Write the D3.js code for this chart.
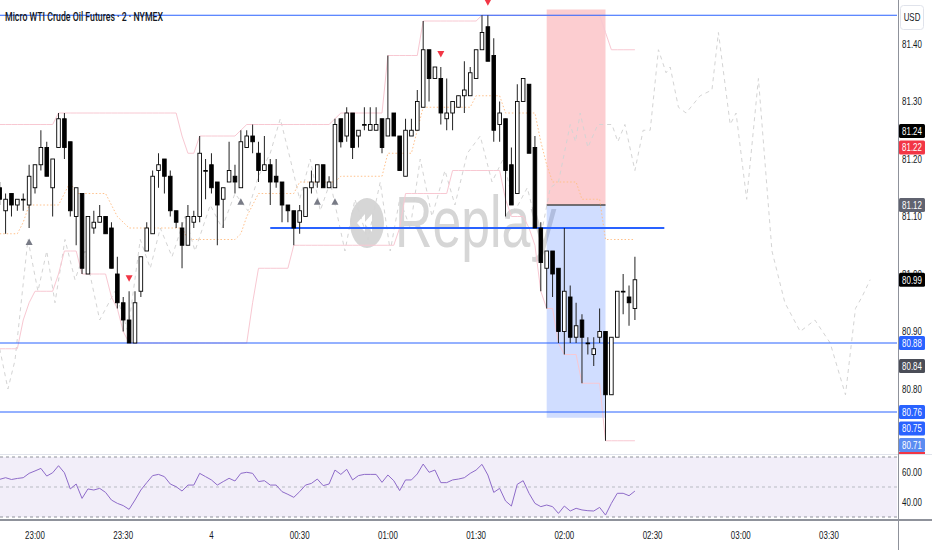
<!DOCTYPE html>
<html>
<head>
<meta charset="utf-8">
<script src="https://cdn.jsdelivr.net/npm/d3@7"></script>
<style>
html, body { margin: 0; padding: 0; background: #fff; }
svg { display: block; font-family: "Liberation Sans", Arial, sans-serif; }
</style>
</head>
<body>
<div id="chart"></div>
<script>
// Chart data (2-minute bars, first bar 22:48)
var symbolTitle = "Micro WTI Crude Oil Futures · 2 · NYMEX";
var firstBarTime = "2024-03-03 22:48";
var barMinutes = 2;

var opens = [
  81.15, 81.11, 81.14, 81.12, 81.13, 81.12, 81.15, 81.19, 81.22, 81.15, 81.22,
  81.27, 81.23, 81.10, 81.14, 81.00, 81.08, 81.09, 81.10, 81.08, 81.00,
  80.95, 80.92, 80.88, 80.97, 81.04, 81.07, 81.18, 81.20, 81.17, 81.11,
  81.08, 81.05, 81.09, 81.10, 81.18, 81.19, 81.16, 81.13, 81.16, 81.17,
  81.15, 81.22, 81.24, 81.21, 81.18, 81.19, 81.17, 81.16, 81.12, 81.11,
  81.09, 81.10, 81.15, 81.16, 81.19, 81.15, 81.15, 81.27, 81.24, 81.28,
  81.24, 81.26, 81.25, 81.25, 81.27, 81.24, 81.28, 81.24, 81.17, 81.24,
  81.25, 81.29, 81.39, 81.34, 81.34, 81.27, 81.28, 81.29, 81.31, 81.31,
  81.34, 81.39, 81.43, 81.38, 81.26, 81.27, 81.19, 81.14, 81.30, 81.33,
  81.22, 81.08, 81.01, 81.04, 81.01, 80.90, 80.96, 80.89, 80.92, 80.88,
  80.86, 80.89, 80.90, 80.79, 80.89, 80.97, 80.96, 80.94
];
var highs = [
  81.16, 81.14, 81.14, 81.13, 81.14, 81.19, 81.19, 81.25, 81.23, 81.20, 81.28,
  81.28, 81.23, 81.15, 81.14, 81.10, 81.11, 81.12, 81.10, 81.09, 81.03,
  80.96, 80.97, 80.97, 81.03, 81.09, 81.18, 81.21, 81.20, 81.18, 81.11,
  81.09, 81.12, 81.11, 81.24, 81.20, 81.21, 81.16, 81.15, 81.23, 81.19,
  81.25, 81.25, 81.26, 81.23, 81.24, 81.20, 81.20, 81.16, 81.12, 81.11,
  81.12, 81.15, 81.18, 81.19, 81.19, 81.17, 81.27, 81.27, 81.29, 81.28,
  81.25, 81.29, 81.29, 81.29, 81.27, 81.38, 81.28, 81.24, 81.27, 81.27,
  81.32, 81.44, 81.39, 81.36, 81.36, 81.34, 81.30, 81.31, 81.37, 81.36,
  81.39, 81.45, 81.45, 81.41, 81.30, 81.27, 81.22, 81.33, 81.34, 81.33,
  81.24, 81.09, 81.04, 81.04, 81.01, 81.08, 80.98, 80.95, 80.93, 80.89,
  80.89, 80.94, 80.90, 80.89, 80.97, 81.00, 80.98, 81.03
];
var lows = [
  81.12, 81.07, 81.10, 81.11, 81.11, 81.08, 81.14, 81.18, 81.17, 81.10, 81.22,
  81.20, 81.10, 81.05, 81.00, 81.00, 81.07, 81.09, 81.07, 81.01, 80.94,
  80.90, 80.88, 80.88, 80.96, 81.04, 81.07, 81.15, 81.14, 81.10, 81.08,
  81.01, 81.05, 81.08, 81.09, 81.13, 81.14, 81.05, 81.08, 81.16, 81.14,
  81.15, 81.22, 81.21, 81.16, 81.18, 81.12, 81.15, 81.09, 81.09, 81.05,
  81.07, 81.10, 81.14, 81.15, 81.15, 81.15, 81.15, 81.22, 81.23, 81.20,
  81.22, 81.25, 81.25, 81.25, 81.21, 81.24, 81.24, 81.18, 81.17, 81.24,
  81.25, 81.29, 81.30, 81.34, 81.26, 81.25, 81.25, 81.29, 81.28, 81.31,
  81.34, 81.39, 81.37, 81.23, 81.23, 81.10, 81.12, 81.14, 81.30, 81.21,
  81.08, 80.97, 80.94, 80.96, 80.88, 80.86, 80.88, 80.88, 80.81, 80.86,
  80.84, 80.88, 80.71, 80.79, 80.89, 80.93, 80.91, 80.92
];
var closes = [
  81.13, 81.13, 81.12, 81.13, 81.13, 81.17, 81.19, 81.22, 81.17, 81.20, 81.27,
  81.22, 81.11, 81.15, 81.01, 81.10, 81.09, 81.10, 81.07, 81.01, 80.95,
  80.92, 80.88, 80.95, 81.03, 81.08, 81.17, 81.19, 81.17, 81.11, 81.09,
  81.05, 81.10, 81.10, 81.21, 81.18, 81.15, 81.12, 81.15, 81.18, 81.16,
  81.23, 81.24, 81.23, 81.18, 81.19, 81.16, 81.16, 81.12, 81.11, 81.08,
  81.11, 81.15, 81.16, 81.19, 81.15, 81.16, 81.26, 81.23, 81.28, 81.22,
  81.25, 81.26, 81.26, 81.26, 81.22, 81.27, 81.24, 81.18, 81.25, 81.25,
  81.30, 81.39, 81.34, 81.36, 81.28, 81.28, 81.30, 81.31, 81.32, 81.35,
  81.39, 81.42, 81.37, 81.25, 81.28, 81.18, 81.12, 81.30, 81.34, 81.21,
  81.08, 81.02, 81.04, 81.00, 80.90, 80.97, 80.89, 80.91, 80.89, 80.88,
  80.87, 80.90, 80.79, 80.89, 80.97, 80.97, 80.95, 80.99
];

// Channel indicator (upper / lower / middle), one value per bar
var bandUpper = [
  81.26, 81.26, 81.26, 81.26, 81.26, 81.26, 81.26, 81.26, 81.26, 81.26,
  81.28, 81.28, 81.28, 81.28, 81.28, 81.28, 81.28, 81.28, 81.28, 81.28,
  81.28, 81.28, 81.28, 81.28, 81.28, 81.28, 81.28, 81.28, 81.28, 81.28,
  81.28, 81.24, 81.21, 81.21, 81.24, 81.24, 81.24, 81.24, 81.24, 81.24,
  81.24, 81.25, 81.26, 81.26, 81.26, 81.26, 81.26, 81.26, 81.26, 81.26,
  81.26, 81.26, 81.26, 81.26, 81.26, 81.26, 81.26, 81.27, 81.28, 81.28,
  81.28, 81.28, 81.28, 81.28, 81.28, 81.28, 81.38, 81.38, 81.38, 81.38,
  81.38, 81.38, 81.44, 81.44, 81.44, 81.44, 81.44, 81.44, 81.44, 81.44,
  81.44, 81.44, 81.45, 81.45, 81.45, 81.45, 81.45, 81.45, 81.45, 81.45,
  81.45, 81.45, 81.45, 81.45, 81.45, 81.45, 81.45, 81.45, 81.45, 81.45,
  81.45, 81.45, 81.45, 81.42, 81.39, 81.39, 81.39, 81.39, 81.39
];
var bandLower = [
  80.87, 80.87, 80.87, 80.87, 80.92, 80.95, 80.97, 80.97, 80.97, 80.97,
  81.00, 81.04, 81.04, 81.04, 81.00, 81.00, 81.00, 81.00, 81.00, 80.96,
  80.94, 80.90, 80.88, 80.88, 80.88, 80.88, 80.88, 80.88, 80.88, 80.88,
  80.88, 80.88, 80.88, 80.88, 80.88, 80.88, 80.88, 80.88, 80.88, 80.88,
  80.88, 80.88, 80.88, 80.95, 81.01, 81.01, 81.01, 81.01, 81.01, 81.01,
  81.05, 81.05, 81.05, 81.05, 81.05, 81.05, 81.05, 81.05, 81.05, 81.05,
  81.05, 81.05, 81.05, 81.05, 81.05, 81.05, 81.05, 81.05, 81.08, 81.14,
  81.14, 81.14, 81.14, 81.14, 81.14, 81.14, 81.14, 81.18, 81.18, 81.18,
  81.18, 81.18, 81.18, 81.18, 81.18, 81.18, 81.13, 81.10, 81.10, 81.10,
  81.08, 81.05, 80.97, 80.94, 80.94, 80.88, 80.86, 80.86, 80.86, 80.81,
  80.81, 80.81, 80.81, 80.71, 80.71, 80.71, 80.71, 80.71, 80.71
];
var bandMid = [
  81.07, 81.07, 81.07, 81.07, 81.09, 81.12, 81.12, 81.12, 81.12, 81.12,
  81.12, 81.14, 81.16, 81.14, 81.14, 81.14, 81.14, 81.14, 81.14, 81.12,
  81.10, 81.09, 81.08, 81.08, 81.08, 81.08, 81.08, 81.08, 81.08, 81.08,
  81.08, 81.08, 81.06, 81.06, 81.06, 81.06, 81.06, 81.06, 81.06, 81.06,
  81.06, 81.07, 81.10, 81.12, 81.14, 81.14, 81.14, 81.14, 81.14, 81.14,
  81.14, 81.16, 81.16, 81.16, 81.16, 81.16, 81.16, 81.16, 81.17, 81.17,
  81.17, 81.17, 81.17, 81.17, 81.17, 81.17, 81.21, 81.21, 81.21, 81.21,
  81.21, 81.25, 81.29, 81.29, 81.29, 81.29, 81.29, 81.29, 81.29, 81.29,
  81.29, 81.31, 81.31, 81.31, 81.31, 81.31, 81.28, 81.28, 81.28, 81.28,
  81.28, 81.28, 81.23, 81.19, 81.16, 81.16, 81.16, 81.16, 81.16, 81.13,
  81.13, 81.13, 81.13, 81.06, 81.06, 81.06, 81.06, 81.06, 81.06
];

// Faint dashed projection path (bar number, price)
var ghostBars = [
  0, 1.4, 2.6, 4.8, 6.5, 8, 9.4, 11.1, 12.8, 14.5, 17, 19.6, 21.8, 23.9, 25.6,
  27.3, 29.3, 31.5, 33.2, 35.8, 37.8, 40, 42.2, 44, 46, 47.7, 49.4, 51, 52.8,
  54.5, 56.2, 58.7, 60.4, 62.6, 64.7, 66.4, 68, 69.8, 71.5, 73.5, 75.7, 77.4,
  79.5, 81.7, 83.7, 85.6, 87.6, 89.7, 91.9, 93.6, 95, 96.2, 97, 97.9, 98.7, 100,
  101.7, 104.1, 105.1, 106.3, 108, 109.4, 110.6, 112, 113.3, 114, 115.4, 116.7,
  119.1, 121.1, 122.2, 124.2, 125.2, 127, 129, 131.3, 133.5, 136.1, 138.6,
  141.2, 143.8, 145.5, 146.6, 148
];
var ghostPrices = [
  80.87, 80.80, 80.85, 81.06, 80.97, 81.04, 80.95, 81.06, 80.99, 81.04, 80.92,
  80.97, 80.90, 81.06, 81.01, 81.08, 81.03, 81.10, 81.04, 81.12, 81.08, 81.14,
  81.11, 81.17, 81.21, 81.27, 81.20, 81.13, 81.20, 81.11, 81.16, 81.04, 81.13,
  81.06, 81.16, 81.04, 81.13, 81.08, 81.20, 81.10, 81.18, 81.12, 81.21, 81.24,
  81.16, 81.20, 81.11, 81.15, 81.06, 81.15, 81.16, 81.22, 81.26, 81.23, 81.28,
  81.22, 81.26, 81.26, 81.23, 81.26, 81.18, 81.25, 81.25, 81.39, 81.35, 81.36,
  81.29, 81.28, 81.31, 81.32, 81.42, 81.26, 81.28, 81.13, 81.34, 81.04, 80.95,
  80.90, 80.92, 80.88, 80.79, 80.94, 80.96, 80.99
];

var rsiValues = [
  55.1, 56.2, 55.0, 55.7, 56.2, 59.1, 60.7, 62.4, 57.3, 59.5,
  64.2, 59.5, 48.7, 52.0, 42.4, 48.7, 48.0, 49.1, 46.4, 41.3,
  39.1, 37.6, 35.1, 41.3, 48.0, 52.9, 57.6, 58.4, 56.9, 52.0,
  50.2, 47.3, 51.3, 51.3, 59.1, 56.9, 54.7, 51.3, 53.6, 55.8,
  54.0, 59.1, 59.8, 59.1, 53.6, 54.2, 51.3, 51.3, 46.9, 45.1,
  43.1, 46.9, 51.3, 52.4, 55.3, 50.9, 52.0, 61.3, 58.4, 61.8,
  54.7, 57.6, 58.4, 58.4, 58.4, 53.1, 58.0, 54.2, 47.6, 54.7,
  54.7, 58.7, 65.3, 59.8, 61.3, 52.9, 52.9, 54.7, 55.3, 56.2,
  59.1, 61.3, 65.1, 58.0, 46.4, 49.1, 40.7, 37.3, 51.8, 54.2,
  45.8, 39.1, 36.9, 38.0, 36.9, 32.4, 37.3, 34.0, 35.8, 34.7,
  34.2, 34.0, 36.4, 31.3, 39.1, 45.8, 45.8, 44.2, 47.3
];
var rsiLevels = [70, 50, 30];
var rsiTicks = [60, 40];

// Signal markers (bar numbers)
var buySignalBars = [5, 41, 54, 57];
var sellSignalBars = [22, 75, 83];

// Drawn levels
var horizontalLevels = [81.45, 80.88, 80.76];
var zoneLevel = 81.08;
var zoneTimes = ["2024-03-04 00:20", "2024-03-04 02:34"];

// Short position tool
var positionTimes = ["2024-03-04 01:54", "2024-03-04 02:14"];
var positionEntry = 81.12, positionStop = 81.46, positionTarget = 80.75;

// Price scale
var priceTicks = [81.40, 81.30, 81.20, 81.10, 81.00, 80.90, 80.80];
var scaleLabelPrices = [81.24, 81.22, 81.12, 80.99, 80.88, 80.84, 80.76, 80.75, 80.71];
var scaleLabelKinds = ["high", "prev", "entry", "last", "level", "mark", "level", "target", "low"];
var lastPrice = 80.99;

// ---------------------------------------------------------------
var width = 932, height = 550, plotRight = 897, paneBottom = 454;
var parseTime = d3.timeParse("%Y-%m-%d %H:%M");
var firstBar = parseTime(firstBarTime);

var x = d3.scaleTime()
    .domain([parseTime("2024-03-03 23:00"), parseTime("2024-03-04 03:30")])
    .range([35, 829]);
var y = d3.scaleLinear().domain([81.40, 80.80]).range([44, 389]);
var yRsi = d3.scaleLinear().domain([70, 30]).range([457, 517]);

function barTime(k) { return new Date(firstBar.getTime() + k * barMinutes * 60000); }
function bx(k) { return x(barTime(k)); }

var svg = d3.select("#chart").append("svg")
    .attr("width", width)
    .attr("height", height);

var defs = svg.append("defs");
defs.append("clipPath").attr("id", "mainClip")
    .append("rect").attr("x", 0).attr("y", 0).attr("width", plotRight).attr("height", paneBottom);
defs.append("clipPath").attr("id", "rsiClip")
    .append("rect").attr("x", 0).attr("y", paneBottom + 1).attr("width", plotRight).attr("height", 64);

// condensed text helper
function addText(g, px, py, str, size, fill, anchor, sx) {
    return g.append("text")
        .attr("transform", "translate(" + px + "," + py + ") scale(" + (sx || 0.72) + ",1)")
        .attr("text-anchor", anchor || "middle")
        .attr("dy", "0.35em")
        .style("font-size", size + "px")
        .attr("fill", fill)
        .text(str);
}

// ---------------- RSI pane ----------------
var rsiPane = svg.append("g").attr("clip-path", "url(#rsiClip)");

rsiPane.append("rect")
    .attr("x", 0).attr("width", plotRight)
    .attr("y", yRsi(70)).attr("height", yRsi(30) - yRsi(70))
    .attr("fill", "rgba(126,87,194,0.1)");

rsiPane.selectAll("line.level")
    .data(rsiLevels)
    .enter().append("line")
    .attr("x1", 0).attr("x2", plotRight)
    .attr("y1", function(d) { return yRsi(d); })
    .attr("y2", function(d) { return yRsi(d); })
    .attr("stroke", function(d) { return d == 50 ? "#b8bbc3" : "#8f929b"; })
    .attr("stroke-dasharray", "3,3");

rsiPane.append("path")
    .datum(rsiValues)
    .attr("fill", "none")
    .attr("stroke", "#8e6bc9")
    .attr("stroke-width", 1)
    .attr("d", d3.line()
        .x(function(d, k) { return bx(k); })
        .y(function(d) { return yRsi(d); }));

// ---------------- Main pane ----------------
var main = svg.append("g").attr("clip-path", "url(#mainClip)");

// Replay watermark
var wm = main.append("g");
wm.append("ellipse")
    .attr("cx", 367).attr("cy", 223).attr("rx", 17).attr("ry", 25)
    .attr("fill", "#d6d6d6");
wm.append("path")
    .attr("d", "M357,223 L365,214 L365,232 Z M364,223 L372,214 L372,232 Z")
    .attr("fill", "#fff");
wm.append("text")
    .attr("transform", "translate(395,247) scale(0.72,1)")
    .style("font-size", "72px")
    .attr("fill", "#d6d6d6")
    .text("Replay");

// Position tool
var px0 = x(parseTime(positionTimes[0])), px1 = x(parseTime(positionTimes[1]));
main.append("rect")
    .attr("x", px0).attr("width", px1 - px0)
    .attr("y", y(positionStop)).attr("height", y(positionEntry) - y(positionStop))
    .attr("fill", "rgba(242,54,69,0.25)");
main.append("rect")
    .attr("x", px0).attr("width", px1 - px0)
    .attr("y", y(positionEntry)).attr("height", y(positionTarget) - y(positionEntry))
    .attr("fill", "rgba(41,98,255,0.22)");
main.append("line")
    .attr("x1", px0).attr("x2", px1)
    .attr("y1", y(positionEntry)).attr("y2", y(positionEntry))
    .attr("stroke", "#4a4a4a").attr("stroke-width", 1.5);

// Dashed projection
main.append("path")
    .datum(ghostBars)
    .attr("fill", "none")
    .attr("stroke", "#d4d4d4")
    .attr("stroke-dasharray", "4,4")
    .attr("d", d3.line()
        .x(function(d) { return bx(d); })
        .y(function(d, k) { return y(ghostPrices[k]); }));

// Channel
var bandLine = d3.line()
    .x(function(d, k) { return bx(k); })
    .y(function(d) { return y(d); });

[bandUpper, bandLower].forEach(function(band) {
    main.append("path")
        .datum(band)
        .attr("fill", "none")
        .attr("stroke", "#f8c8d2")
        .attr("stroke-width", 1)
        .attr("d", bandLine);
});
main.append("path")
    .datum(bandMid)
    .attr("fill", "none")
    .attr("stroke", "#ffc08a")
    .attr("stroke-dasharray", "1.5,2")
    .attr("d", bandLine);

// Horizontal levels
main.selectAll("line.hlevel")
    .data(horizontalLevels)
    .enter().append("line")
    .attr("x1", 0).attr("x2", plotRight)
    .attr("y1", function(d) { return y(d); })
    .attr("y2", function(d) { return y(d); })
    .attr("stroke", "#2962ff")
    .attr("stroke-width", 1);

main.append("line")
    .attr("x1", x(parseTime(zoneTimes[0])))
    .attr("x2", x(parseTime(zoneTimes[1])))
    .attr("y1", y(zoneLevel)).attr("y2", y(zoneLevel))
    .attr("stroke", "#2962ff")
    .attr("stroke-width", 2);

// Candles
var bars = opens.map(function(o, k) {
    return { k: k, o: o, h: highs[k], l: lows[k], c: closes[k] };
});

var candle = main.selectAll("g.candle")
    .data(bars)
    .enter().append("g")
    .attr("class", "candle");

candle.append("line")
    .attr("x1", function(d) { return bx(d.k); })
    .attr("x2", function(d) { return bx(d.k); })
    .attr("y1", function(d) { return y(d.h); })
    .attr("y2", function(d) { return y(d.l); })
    .attr("stroke", "#222")
    .attr("stroke-width", 1);

candle.append("rect")
    .attr("x", function(d) { return bx(d.k) - 1.8; })
    .attr("width", 3.6)
    .attr("y", function(d) { return y(Math.max(d.o, d.c)); })
    .attr("height", function(d) { return Math.max(0.8, Math.abs(y(d.o) - y(d.c))); })
    .attr("fill", function(d) { return d.c >= d.o ? "#fff" : "#000"; })
    .attr("stroke", "#000")
    .attr("stroke-width", 0.9);

// Signal markers
main.selectAll("path.buy")
    .data(buySignalBars)
    .enter().append("path")
    .attr("d", function(k) {
        var cx = bx(k), cy = y(lows[k]) + 14;
        return "M" + (cx - 3.5) + "," + (cy + 3) + "L" + (cx + 3.5) + "," + (cy + 3) + "L" + cx + "," + (cy - 3.5) + "Z";
    })
    .attr("fill", "#787b86");

main.selectAll("path.sell")
    .data(sellSignalBars)
    .enter().append("path")
    .attr("d", function(k) {
        var cx = bx(k), cy = y(highs[k]) - 13;
        return "M" + (cx - 3.5) + "," + (cy - 3) + "L" + (cx + 3.5) + "," + (cy - 3) + "L" + cx + "," + (cy + 3.5) + "Z";
    })
    .attr("fill", "#f23645");

// Pane separators
svg.append("line")
    .attr("x1", 0).attr("x2", width)
    .attr("y1", paneBottom + 0.5).attr("y2", paneBottom + 0.5)
    .attr("stroke", "#e0e3eb");
svg.append("line")
    .attr("x1", 0).attr("x2", width)
    .attr("y1", 520).attr("y2", 520)
    .attr("stroke", "#8f929b").attr("stroke-width", 2);

// ---------------- Right price scale ----------------
var scale = svg.append("g");
scale.append("line")
    .attr("x1", plotRight + 1.5).attr("x2", plotRight + 1.5)
    .attr("y1", 0).attr("y2", height)
    .attr("stroke", "#8f929b");

scale.selectAll("g.tick")
    .data(priceTicks)
    .enter().append("g")
    .each(function(d) {
        addText(d3.select(this), 912, y(d), d.toFixed(2), 11, "#131722");
    });

rsiTicks.forEach(function(d) {
    addText(scale, 912, yRsi(d), d.toFixed(2), 11, "#131722");
});

// Value labels with collision avoidance around the last price
var kindColor = {
    high: "#000000", prev: "#f23645", entry: "#606370", last: "#000000",
    level: "#2962ff", mark: "#4a4d57", target: "#2962ff", low: "#5b8cf2"
};
var labels = scaleLabelPrices.map(function(p, i) {
    return { p: p, kind: scaleLabelKinds[i], y: y(p) };
}).sort(function(a, b) { return a.y - b.y; });

var gap = 16.5, anchorY = y(lastPrice);
var above = labels.filter(function(d) { return d.y < anchorY; }).reverse();
var below = labels.filter(function(d) { return d.y >= anchorY; });
var prev = anchorY;
above.forEach(function(d) { d.y = Math.min(d.y, prev - gap); prev = d.y; });
prev = null;
below.forEach(function(d) { if (prev !== null) d.y = Math.max(d.y, prev + gap); prev = d.y; });

var lab = scale.selectAll("g.plabel")
    .data(labels)
    .enter().append("g");
lab.append("rect")
    .attr("x", plotRight + 2).attr("width", 26)
    .attr("y", function(d) { return d.y - 7; })
    .attr("height", 14)
    .attr("rx", 1.5)
    .attr("fill", function(d) { return kindColor[d.kind]; });
lab.each(function(d) {
    addText(d3.select(this), 912, d.y, d.p.toFixed(2), 11, "#fff");
});

// red marker under the lowest label
scale.append("line")
    .attr("x1", plotRight + 2).attr("x2", plotRight + 28)
    .attr("y1", paneBottom - 1).attr("y2", paneBottom - 1)
    .attr("stroke", "#f23645").attr("stroke-width", 2);

// currency box
scale.append("rect")
    .attr("x", 900.5).attr("y", 5.5).attr("width", 23).attr("height", 24)
    .attr("rx", 3)
    .attr("fill", "#fff")
    .attr("stroke", "#e0e3eb");
addText(scale, 912, 17.5, "USD", 11, "#131722");

// ---------------- Time axis ----------------
var timeFmt = d3.timeFormat("%H:%M"), dayFmt = d3.timeFormat("%-d");
var timeTicks = d3.timeMinute.every(30).range(x.invert(0), x.invert(plotRight));
var tAxis = svg.append("g");
timeTicks.forEach(function(t) {
    var s = (t.getHours() === 0 && t.getMinutes() === 0) ? dayFmt(t) : timeFmt(t);
    addText(tAxis, x(t), 535, s, 11, "#131722");
});

// ---------------- Title ----------------
svg.append("text")
    .attr("x", 5).attr("y", 21)
    .attr("textLength", 158)
    .attr("lengthAdjust", "spacingAndGlyphs")
    .style("font-size", "12.5px")
    .style("font-family", "Roboto, 'Liberation Sans', sans-serif")
    .style("font-weight", 500)
    .attr("fill", "#131722")
    .text(symbolTitle);
</script>
</body>
</html>
